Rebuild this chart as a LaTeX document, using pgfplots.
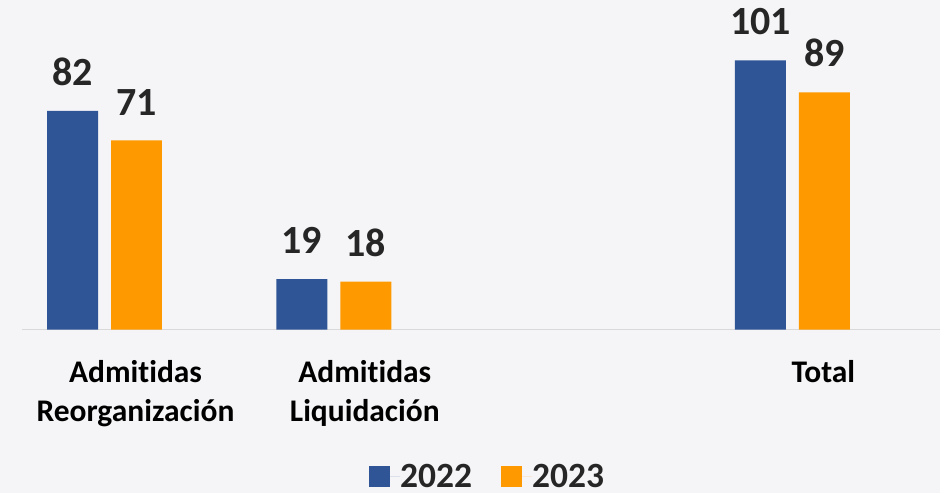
\documentclass[border=0pt]{standalone}
\usepackage{fontspec}
\setmainfont{Carlito}[Ligatures={NoCommon}]
\usepackage{pgfplots}
\pgfplotsset{compat=1.18}

\definecolor{bgc}{RGB}{245,245,247}
\definecolor{c22}{RGB}{47,85,151}
\definecolor{c23}{RGB}{255,153,0}
\definecolor{txt}{RGB}{38,38,38}

\pgfplotsset{
  sq legend/.style={legend image code/.code={
      \fill[##1,draw=none] (0bp,-10.5bp) rectangle (21bp,10.5bp);
      \path (0bp,0bp) -- (31bp,0bp);}},
}

\begin{document}
\begin{tikzpicture}
% page background
\fill[bgc] (-22bp,-163bp) rectangle (919bp,330bp);
\begin{axis}[
    scale only axis,
    width=919bp, height=330bp,
    xmin=-0.36, xmax=3.645,
    ymin=0, ymax=123.6,
    ybar=13bp, bar width=51bp,
    clip=false,
    axis y line=none,
    axis x line*=bottom,
    x axis line style={draw=black!15, line width=1.5bp},
    major tick length=0pt,
    /pgf/number format/assume math mode=true,
    xtick={0,1,3},
    xticklabels={Admitidas\\Reorganización, Admitidas\\Liquidación, Total},
    xticklabel style={align=center, anchor=north, inner sep=0pt,
        yshift=-31bp, xshift=31bp, text=black,
        font=\fontsize{31.5bp}{39bp}\selectfont\bfseries},
    nodes near coords,
    every node near coord/.append style={anchor=south, inner sep=0pt,
        yshift=25bp, text=txt,
        font=\fontsize{40bp}{48bp}\selectfont\bfseries},
    legend columns=2,
    legend style={at={(0.506,-0.4455)}, anchor=center, draw=none, fill=none,
        font=\fontsize{35.5bp}{42bp}\selectfont\bfseries, text=txt,
        nodes={inner sep=0pt},
        /tikz/every even column/.append style={column sep=29bp}},
]
\addplot[fill=c22, draw=none, sq legend] coordinates {(0,82) (1,19) (3,101)};
\addplot[fill=c23, draw=none, sq legend] coordinates {(0,71) (1,18) (3,89)};
\legend{2022, 2023}
\end{axis}
\end{tikzpicture}
\end{document}
